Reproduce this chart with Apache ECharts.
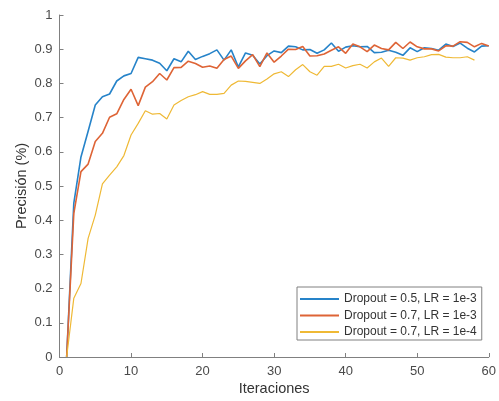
<!DOCTYPE html>
<html>
<head>
<meta charset="utf-8">
<script src="https://cdn.jsdelivr.net/npm/echarts@6/dist/echarts.min.js"></script>
<style>html,body{margin:0;padding:0;background:#fff;}#c{width:499px;height:401px;}</style>
</head>
<body>
<div id="c"></div>
<script>
var seriesNames = ['Dropout = 0.5, LR = 1e-3', 'Dropout = 0.7, LR = 1e-3', 'Dropout = 0.7, LR = 1e-4'];
var xTicks = [0, 10, 20, 30, 40, 50, 60];
var yTicks = [0, 0.1, 0.2, 0.3, 0.4, 0.5, 0.6, 0.7, 0.8, 0.9, 1];

var blue = [0, 0.45, 0.585, 0.66, 0.737, 0.761, 0.769, 0.807, 0.822, 0.829,
  0.876, 0.872, 0.868, 0.859, 0.837, 0.872, 0.863, 0.894, 0.870, 0.879,
  0.887, 0.898, 0.868, 0.898, 0.848, 0.889, 0.882, 0.857, 0.881, 0.895,
  0.890, 0.909, 0.907, 0.898, 0.899, 0.888, 0.898, 0.918, 0.894, 0.906,
  0.910, 0.907, 0.908, 0.890, 0.891, 0.897, 0.891, 0.882, 0.904, 0.893,
  0.904, 0.902, 0.897, 0.915, 0.908, 0.918, 0.903, 0.892, 0.909, 0.910];
var red = [0, 0.42, 0.542, 0.564, 0.630, 0.654, 0.701, 0.711, 0.753, 0.783,
  0.735, 0.789, 0.805, 0.829, 0.810, 0.846, 0.847, 0.865, 0.858, 0.847,
  0.851, 0.844, 0.870, 0.880, 0.844, 0.866, 0.884, 0.849, 0.889, 0.862,
  0.880, 0.900, 0.899, 0.908, 0.880, 0.881, 0.886, 0.897, 0.907, 0.888,
  0.915, 0.907, 0.893, 0.912, 0.902, 0.898, 0.920, 0.902, 0.921, 0.907,
  0.901, 0.901, 0.895, 0.910, 0.909, 0.922, 0.920, 0.907, 0.917, 0.909];
var yellow = [0, 0.172, 0.215, 0.347, 0.415, 0.506, 0.532, 0.556, 0.589, 0.649,
  0.683, 0.720, 0.710, 0.712, 0.696, 0.737, 0.750, 0.761, 0.767, 0.776,
  0.768, 0.768, 0.771, 0.795, 0.807, 0.806, 0.803, 0.800, 0.813, 0.828,
  0.834, 0.820, 0.840, 0.855, 0.834, 0.824, 0.850, 0.850, 0.856, 0.845,
  0.852, 0.856, 0.845, 0.863, 0.874, 0.850, 0.875, 0.874, 0.868, 0.875,
  0.878, 0.884, 0.885, 0.877, 0.875, 0.875, 0.878, 0.868];

function pairs(arr) {
  return arr.map(function (v, i) { return [i + 1, v]; });
}

var colors = ['#2683C9', '#DE6436', '#EFB935'];
var widths = [1.6, 1.6, 1.2];
var allData = [blue, red, yellow];

var chart = echarts.init(document.getElementById('c'), null, {renderer: 'canvas'});
var font = 'Arial, "Liberation Sans", Helvetica, sans-serif';
chart.setOption({
  animation: false,
  backgroundColor: '#fff',
  grid: {left: 59.5, right: 7, top: 15, bottom: 44, containLabel: false},
  xAxis: {
    type: 'value', min: 0, max: 60, interval: 10,
    name: 'Iteraciones', nameLocation: 'middle', nameGap: 24,
    nameMoveOverlap: false,
    nameTextStyle: {fontSize: 14.5, color: '#333333', fontFamily: font},
    axisLine: {show: true, lineStyle: {color: '#808080', width: 1}},
    axisTick: {show: true, inside: true, length: 4, lineStyle: {color: '#808080'}},
    axisLabel: {fontSize: 13, color: '#4a4a4a', margin: 8, fontFamily: font,
      customValues: xTicks},
    splitLine: {show: false}
  },
  yAxis: {
    type: 'value', min: 0, max: 1, interval: 0.1,
    name: 'Precisión (%)', nameLocation: 'middle', nameGap: 30,
    nameMoveOverlap: false,
    nameTextStyle: {fontSize: 14.5, color: '#333333', fontFamily: font},
    axisLine: {show: true, lineStyle: {color: '#808080', width: 1}},
    axisTick: {show: true, inside: true, length: 4, lineStyle: {color: '#808080'}},
    axisLabel: {fontSize: 13, color: '#4a4a4a', margin: 7, fontFamily: font,
      formatter: function (v) { return String(Math.round(v * 10) / 10); }},
    splitLine: {show: false}
  },
  legend: {
    orient: 'vertical',
    left: 297, top: 287,
    backgroundColor: '#fff',
    borderColor: '#808080', borderWidth: 1, borderRadius: 0,
    padding: [4, 5, 0, 3],
    itemGap: 0.5,
    itemWidth: 39, itemHeight: 2,
    itemTextGap: 3,
    icon: 'rect',
    textStyle: {fontSize: 12, color: '#333333', fontFamily: font, lineHeight: 16},
    data: seriesNames
  },
  series: seriesNames.map(function (n, k) {
    return {
      name: n, type: 'line', data: pairs(allData[k]),
      symbol: 'none', showSymbol: false,
      lineStyle: {color: colors[k], width: widths[k]},
      itemStyle: {color: colors[k]}
    };
  })
});
</script>
</body>
</html>
